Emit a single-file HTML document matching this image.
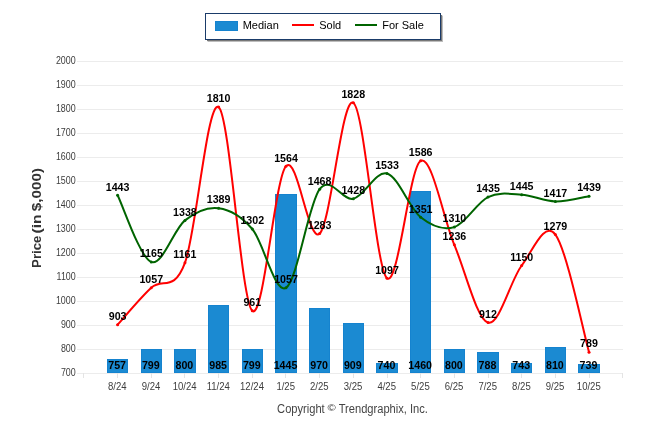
<!DOCTYPE html>
<html><head><meta charset="utf-8"><title>Chart</title>
<style>
html,body{margin:0;padding:0;background:#fff;}
body{width:646px;height:434px;overflow:hidden;}
svg{display:block;}
text{font-family:"Liberation Sans",sans-serif;}
.ax{font-size:10.6px;fill:#3d3d3d;}
.dl{font-size:10.67px;font-weight:bold;fill:#000;text-anchor:middle;}
</style></head><body>
<svg width="646" height="434" viewBox="0 0 646 434">
<rect width="646" height="434" fill="#fff"/>

<line x1="77" y1="373.5" x2="623" y2="373.5" stroke="#ececec" stroke-width="1"/>
<line x1="77" y1="349.5" x2="623" y2="349.5" stroke="#ececec" stroke-width="1"/>
<line x1="77" y1="325.5" x2="623" y2="325.5" stroke="#ececec" stroke-width="1"/>
<line x1="77" y1="301.5" x2="623" y2="301.5" stroke="#ececec" stroke-width="1"/>
<line x1="77" y1="277.5" x2="623" y2="277.5" stroke="#ececec" stroke-width="1"/>
<line x1="77" y1="253.5" x2="623" y2="253.5" stroke="#ececec" stroke-width="1"/>
<line x1="77" y1="229.5" x2="623" y2="229.5" stroke="#ececec" stroke-width="1"/>
<line x1="77" y1="205.5" x2="623" y2="205.5" stroke="#ececec" stroke-width="1"/>
<line x1="77" y1="181.5" x2="623" y2="181.5" stroke="#ececec" stroke-width="1"/>
<line x1="77" y1="157.5" x2="623" y2="157.5" stroke="#ececec" stroke-width="1"/>
<line x1="77" y1="133.5" x2="623" y2="133.5" stroke="#ececec" stroke-width="1"/>
<line x1="77" y1="109.5" x2="623" y2="109.5" stroke="#ececec" stroke-width="1"/>
<line x1="77" y1="85.5" x2="623" y2="85.5" stroke="#ececec" stroke-width="1"/>
<line x1="77" y1="61.5" x2="623" y2="61.5" stroke="#ececec" stroke-width="1"/>
<text class="ax" transform="translate(75.7,375.6) scale(0.84,1)" text-anchor="end">700</text>
<text class="ax" transform="translate(75.7,351.6) scale(0.84,1)" text-anchor="end">800</text>
<text class="ax" transform="translate(75.7,327.6) scale(0.84,1)" text-anchor="end">900</text>
<text class="ax" transform="translate(75.7,303.6) scale(0.84,1)" text-anchor="end">1000</text>
<text class="ax" transform="translate(75.7,279.6) scale(0.84,1)" text-anchor="end">1100</text>
<text class="ax" transform="translate(75.7,255.6) scale(0.84,1)" text-anchor="end">1200</text>
<text class="ax" transform="translate(75.7,231.6) scale(0.84,1)" text-anchor="end">1300</text>
<text class="ax" transform="translate(75.7,207.6) scale(0.84,1)" text-anchor="end">1400</text>
<text class="ax" transform="translate(75.7,183.6) scale(0.84,1)" text-anchor="end">1500</text>
<text class="ax" transform="translate(75.7,159.6) scale(0.84,1)" text-anchor="end">1600</text>
<text class="ax" transform="translate(75.7,135.6) scale(0.84,1)" text-anchor="end">1700</text>
<text class="ax" transform="translate(75.7,111.6) scale(0.84,1)" text-anchor="end">1800</text>
<text class="ax" transform="translate(75.7,87.6) scale(0.84,1)" text-anchor="end">1900</text>
<text class="ax" transform="translate(75.7,63.6) scale(0.84,1)" text-anchor="end">2000</text>
<line x1="83.5" y1="373" x2="83.5" y2="378" stroke="#e4e4e4"/>
<line x1="622.5" y1="373" x2="622.5" y2="378" stroke="#e4e4e4"/>
<line x1="117.5" y1="373" x2="117.5" y2="378" stroke="#e4e4e4"/>
<text class="ax" transform="translate(117.3,389.7) scale(0.87,1)" text-anchor="middle" style="font-size:11px">8/24</text>
<line x1="151.5" y1="373" x2="151.5" y2="378" stroke="#e4e4e4"/>
<text class="ax" transform="translate(151.0,389.7) scale(0.87,1)" text-anchor="middle" style="font-size:11px">9/24</text>
<line x1="184.5" y1="373" x2="184.5" y2="378" stroke="#e4e4e4"/>
<text class="ax" transform="translate(184.6,389.7) scale(0.87,1)" text-anchor="middle" style="font-size:11px">10/24</text>
<line x1="218.5" y1="373" x2="218.5" y2="378" stroke="#e4e4e4"/>
<text class="ax" transform="translate(218.3,389.7) scale(0.87,1)" text-anchor="middle" style="font-size:11px">11/24</text>
<line x1="252.5" y1="373" x2="252.5" y2="378" stroke="#e4e4e4"/>
<text class="ax" transform="translate(252.0,389.7) scale(0.87,1)" text-anchor="middle" style="font-size:11px">12/24</text>
<line x1="285.5" y1="373" x2="285.5" y2="378" stroke="#e4e4e4"/>
<text class="ax" transform="translate(285.7,389.7) scale(0.87,1)" text-anchor="middle" style="font-size:11px">1/25</text>
<line x1="319.5" y1="373" x2="319.5" y2="378" stroke="#e4e4e4"/>
<text class="ax" transform="translate(319.3,389.7) scale(0.87,1)" text-anchor="middle" style="font-size:11px">2/25</text>
<line x1="353.5" y1="373" x2="353.5" y2="378" stroke="#e4e4e4"/>
<text class="ax" transform="translate(353.0,389.7) scale(0.87,1)" text-anchor="middle" style="font-size:11px">3/25</text>
<line x1="387.5" y1="373" x2="387.5" y2="378" stroke="#e4e4e4"/>
<text class="ax" transform="translate(386.7,389.7) scale(0.87,1)" text-anchor="middle" style="font-size:11px">4/25</text>
<line x1="420.5" y1="373" x2="420.5" y2="378" stroke="#e4e4e4"/>
<text class="ax" transform="translate(420.4,389.7) scale(0.87,1)" text-anchor="middle" style="font-size:11px">5/25</text>
<line x1="454.5" y1="373" x2="454.5" y2="378" stroke="#e4e4e4"/>
<text class="ax" transform="translate(454.1,389.7) scale(0.87,1)" text-anchor="middle" style="font-size:11px">6/25</text>
<line x1="488.5" y1="373" x2="488.5" y2="378" stroke="#e4e4e4"/>
<text class="ax" transform="translate(487.7,389.7) scale(0.87,1)" text-anchor="middle" style="font-size:11px">7/25</text>
<line x1="521.5" y1="373" x2="521.5" y2="378" stroke="#e4e4e4"/>
<text class="ax" transform="translate(521.4,389.7) scale(0.87,1)" text-anchor="middle" style="font-size:11px">8/25</text>
<line x1="555.5" y1="373" x2="555.5" y2="378" stroke="#e4e4e4"/>
<text class="ax" transform="translate(555.1,389.7) scale(0.87,1)" text-anchor="middle" style="font-size:11px">9/25</text>
<line x1="589.5" y1="373" x2="589.5" y2="378" stroke="#e4e4e4"/>
<text class="ax" transform="translate(588.8,389.7) scale(0.87,1)" text-anchor="middle" style="font-size:11px">10/25</text>
<rect x="107.5" y="359.5" width="20" height="13" fill="#1b8ad2" stroke="#1583cf" stroke-width="1"/>
<rect x="141.5" y="349.5" width="20" height="23" fill="#1b8ad2" stroke="#1583cf" stroke-width="1"/>
<rect x="174.5" y="349.5" width="21" height="23" fill="#1b8ad2" stroke="#1583cf" stroke-width="1"/>
<rect x="208.5" y="305.5" width="20" height="67" fill="#1b8ad2" stroke="#1583cf" stroke-width="1"/>
<rect x="242.5" y="349.5" width="20" height="23" fill="#1b8ad2" stroke="#1583cf" stroke-width="1"/>
<rect x="275.5" y="194.5" width="21" height="178" fill="#1b8ad2" stroke="#1583cf" stroke-width="1"/>
<rect x="309.5" y="308.5" width="20" height="64" fill="#1b8ad2" stroke="#1583cf" stroke-width="1"/>
<rect x="343.5" y="323.5" width="20" height="49" fill="#1b8ad2" stroke="#1583cf" stroke-width="1"/>
<rect x="376.5" y="363.5" width="21" height="9" fill="#1b8ad2" stroke="#1583cf" stroke-width="1"/>
<rect x="410.5" y="191.5" width="20" height="181" fill="#1b8ad2" stroke="#1583cf" stroke-width="1"/>
<rect x="444.5" y="349.5" width="20" height="23" fill="#1b8ad2" stroke="#1583cf" stroke-width="1"/>
<rect x="477.5" y="352.5" width="21" height="20" fill="#1b8ad2" stroke="#1583cf" stroke-width="1"/>
<rect x="511.5" y="363.5" width="20" height="9" fill="#1b8ad2" stroke="#1583cf" stroke-width="1"/>
<rect x="545.5" y="347.5" width="20" height="25" fill="#1b8ad2" stroke="#1583cf" stroke-width="1"/>
<rect x="578.5" y="364.5" width="21" height="8" fill="#1b8ad2" stroke="#1583cf" stroke-width="1"/>
<path d="M117.60,324.78 C123.21,318.62 140.05,298.14 151.27,287.82 C162.50,277.50 173.72,292.98 184.95,262.86 C196.17,232.74 207.40,99.10 218.62,107.10 C229.85,115.10 241.07,301.02 252.30,310.86 C263.52,320.70 274.75,179.02 285.98,166.14 C297.20,153.26 308.43,244.14 319.65,233.58 C330.87,223.02 342.10,95.34 353.32,102.78 C364.55,110.22 375.77,268.54 387.00,278.22 C398.23,287.90 409.45,166.42 420.67,160.86 C431.90,155.30 443.12,217.90 454.35,244.86 C465.58,271.82 476.80,319.18 488.02,322.62 C499.25,326.06 510.47,280.18 521.70,265.50 C532.92,250.82 544.15,220.10 555.38,234.54 C566.60,248.98 583.44,332.54 589.05,352.14" fill="none" stroke="#ff0000" stroke-width="2" stroke-linecap="round"/>
<path d="M117.60,195.18 C123.21,206.30 140.05,257.70 151.27,261.90 C162.50,266.10 173.72,229.34 184.95,220.38 C196.17,211.42 207.40,206.70 218.62,208.14 C229.85,209.58 241.07,215.74 252.30,229.02 C263.52,242.30 274.75,294.46 285.98,287.82 C297.20,281.18 308.43,204.02 319.65,189.18 C330.87,174.34 342.10,201.38 353.32,198.78 C364.55,196.18 375.77,170.50 387.00,173.58 C398.23,176.66 409.45,208.34 420.67,217.26 C431.90,226.18 443.12,230.46 454.35,227.10 C465.58,223.74 476.80,202.50 488.02,197.10 C499.25,191.70 510.47,193.98 521.70,194.70 C532.92,195.42 544.15,201.18 555.38,201.42 C566.60,201.66 583.44,197.02 589.05,196.14" fill="none" stroke="#006400" stroke-width="2" stroke-linecap="round"/>
<circle cx="117.60" cy="324.78" r="1.5" fill="#ff0000"/>
<circle cx="151.27" cy="287.82" r="1.5" fill="#ff0000"/>
<circle cx="184.95" cy="262.86" r="1.5" fill="#ff0000"/>
<circle cx="218.62" cy="107.10" r="1.5" fill="#ff0000"/>
<circle cx="252.30" cy="310.86" r="1.5" fill="#ff0000"/>
<circle cx="285.98" cy="166.14" r="1.5" fill="#ff0000"/>
<circle cx="319.65" cy="233.58" r="1.5" fill="#ff0000"/>
<circle cx="353.32" cy="102.78" r="1.5" fill="#ff0000"/>
<circle cx="387.00" cy="278.22" r="1.5" fill="#ff0000"/>
<circle cx="420.67" cy="160.86" r="1.5" fill="#ff0000"/>
<circle cx="454.35" cy="244.86" r="1.5" fill="#ff0000"/>
<circle cx="488.02" cy="322.62" r="1.5" fill="#ff0000"/>
<circle cx="521.70" cy="265.50" r="1.5" fill="#ff0000"/>
<circle cx="555.38" cy="234.54" r="1.5" fill="#ff0000"/>
<circle cx="589.05" cy="352.14" r="1.5" fill="#ff0000"/>
<circle cx="117.60" cy="195.18" r="1.5" fill="#006400"/>
<circle cx="151.27" cy="261.90" r="1.5" fill="#006400"/>
<circle cx="184.95" cy="220.38" r="1.5" fill="#006400"/>
<circle cx="218.62" cy="208.14" r="1.5" fill="#006400"/>
<circle cx="252.30" cy="229.02" r="1.5" fill="#006400"/>
<circle cx="285.98" cy="287.82" r="1.5" fill="#006400"/>
<circle cx="319.65" cy="189.18" r="1.5" fill="#006400"/>
<circle cx="353.32" cy="198.78" r="1.5" fill="#006400"/>
<circle cx="387.00" cy="173.58" r="1.5" fill="#006400"/>
<circle cx="420.67" cy="217.26" r="1.5" fill="#006400"/>
<circle cx="454.35" cy="227.10" r="1.5" fill="#006400"/>
<circle cx="488.02" cy="197.10" r="1.5" fill="#006400"/>
<circle cx="521.70" cy="194.70" r="1.5" fill="#006400"/>
<circle cx="555.38" cy="201.42" r="1.5" fill="#006400"/>
<circle cx="589.05" cy="196.14" r="1.5" fill="#006400"/>
<text class="dl" x="117.1" y="369">757</text>
<text class="dl" x="150.8" y="369">799</text>
<text class="dl" x="184.4" y="369">800</text>
<text class="dl" x="218.1" y="369">985</text>
<text class="dl" x="251.8" y="369">799</text>
<text class="dl" x="285.5" y="369">1445</text>
<text class="dl" x="319.1" y="369">970</text>
<text class="dl" x="352.8" y="369">909</text>
<text class="dl" x="386.5" y="369">740</text>
<text class="dl" x="420.2" y="369">1460</text>
<text class="dl" x="453.9" y="369">800</text>
<text class="dl" x="487.5" y="369">788</text>
<text class="dl" x="521.2" y="369">743</text>
<text class="dl" x="554.9" y="369">810</text>
<text class="dl" x="588.5" y="369">739</text>
<text class="dl" x="117.6" y="320">903</text>
<text class="dl" x="151.3" y="283">1057</text>
<text class="dl" x="184.9" y="258">1161</text>
<text class="dl" x="218.6" y="102">1810</text>
<text class="dl" x="252.3" y="306">961</text>
<text class="dl" x="286.0" y="162">1564</text>
<text class="dl" x="319.6" y="229">1283</text>
<text class="dl" x="353.3" y="98">1828</text>
<text class="dl" x="387.0" y="274">1097</text>
<text class="dl" x="420.7" y="156">1586</text>
<text class="dl" x="454.4" y="240">1236</text>
<text class="dl" x="488.0" y="318">912</text>
<text class="dl" x="521.7" y="261">1150</text>
<text class="dl" x="555.4" y="230">1279</text>
<text class="dl" x="589.0" y="347">789</text>
<text class="dl" x="117.6" y="191">1443</text>
<text class="dl" x="151.3" y="257">1165</text>
<text class="dl" x="184.9" y="216">1338</text>
<text class="dl" x="218.6" y="203">1389</text>
<text class="dl" x="252.3" y="224">1302</text>
<text class="dl" x="286.0" y="283">1057</text>
<text class="dl" x="319.6" y="185">1468</text>
<text class="dl" x="353.3" y="194">1428</text>
<text class="dl" x="387.0" y="169">1533</text>
<text class="dl" x="420.7" y="213">1351</text>
<text class="dl" x="454.4" y="222">1310</text>
<text class="dl" x="488.0" y="192">1435</text>
<text class="dl" x="521.7" y="190">1445</text>
<text class="dl" x="555.4" y="197">1417</text>
<text class="dl" x="589.0" y="191">1439</text>
<g transform="translate(41.3,0) rotate(-90)" font-size="13.33" font-weight="bold" fill="#333"><text x="-267.9" y="0" textLength="32.2" lengthAdjust="spacingAndGlyphs">Price</text><text x="-233.5" y="0" textLength="19.1" lengthAdjust="spacingAndGlyphs">(in</text><text x="-211.3" y="0" textLength="43.3" lengthAdjust="spacingAndGlyphs">$,000)</text></g>
<g font-size="12.5" fill="#444"><text transform="translate(277.1,413) scale(0.89,1)">Copyright</text><text transform="translate(327.6,411.1) scale(1.12,0.9)" font-size="10" fill="#333">©</text><text transform="translate(338.7,413) scale(0.89,1)">Trendgraphix,</text><text transform="translate(409.9,413) scale(0.89,1)">Inc.</text></g>
<rect x="207" y="40" width="235" height="1" fill="#777"/>
<rect x="207.6" y="41" width="235.2" height="1" fill="#bdbdbd"/>
<rect x="441" y="15" width="1" height="26" fill="#777"/>
<rect x="442" y="15.6" width="1" height="26.4" fill="#bdbdbd"/>
<rect x="205.5" y="13.5" width="235" height="26" fill="#fff" stroke="#1a3b69" stroke-width="1"/>
<rect x="215.5" y="21.5" width="22" height="9" fill="#1b8ad2" stroke="#1583cf"/>
<text x="242.7" y="29.2" font-size="11" fill="#000">Median</text>
<line x1="292" y1="25" x2="314" y2="25" stroke="#ff0000" stroke-width="2"/>
<text x="319.2" y="29.2" font-size="11" fill="#000">Sold</text>
<line x1="355" y1="25" x2="377" y2="25" stroke="#006400" stroke-width="2"/>
<text x="382.2" y="29.2" font-size="11" fill="#000" textLength="41.6" lengthAdjust="spacing">For Sale</text>
</svg></body></html>
